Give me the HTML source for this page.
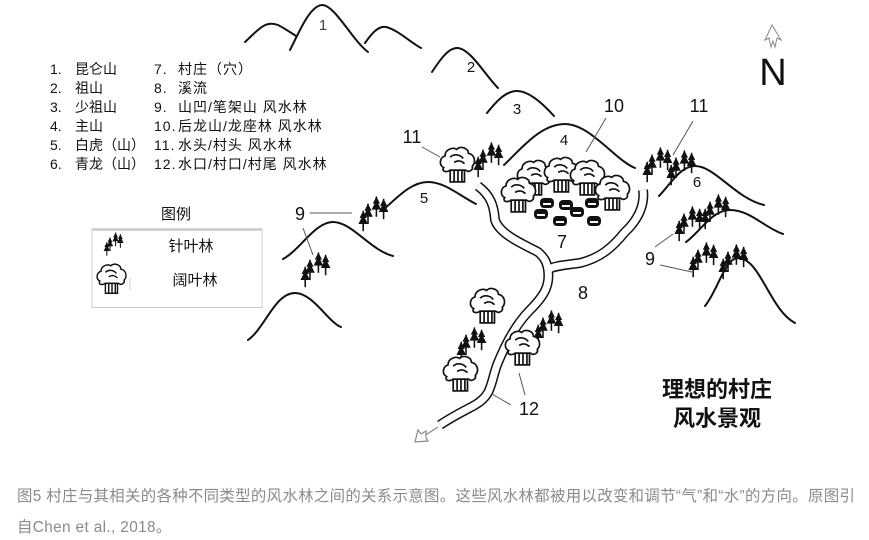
<!DOCTYPE html>
<html><head><meta charset="utf-8"><style>
html,body{margin:0;padding:0;background:#fff;}
body{width:869px;height:540px;overflow:hidden;position:relative;font-family:"Liberation Sans","Noto Sans CJK SC",sans-serif;}
svg{position:absolute;left:0;top:0;}
.cap{position:absolute;left:17px;color:#8a8a8a;font-size:15.4px;letter-spacing:0.35px;white-space:nowrap;font-family:"Liberation Sans","Noto Sans CJK SC",sans-serif;}
</style></head><body>
<svg width="869" height="540" viewBox="0 0 869 540" xmlns="http://www.w3.org/2000/svg">
<defs>
<g id="con">
 <path d="M0,-9 L-3,-3 L-1.5,-3 L-4,2 L4,2 L1.5,-3 L3,-3 Z" fill="#111"/>
 <line x1="0" y1="-9" x2="0" y2="8" stroke="#111" stroke-width="1.3"/>
</g>
<g id="cg0">
 <use href="#con" x="0" y="2"/><use href="#con" x="7" y="-4"/><use href="#con" x="13" y="-2"/><use href="#con" x="-4" y="8"/>
</g>
<g id="cg"><g transform="scale(1.2)"><use href="#cg0"/></g></g>
<g id="bt0" fill="#fff" stroke="#111" stroke-width="1.3">
 <path d="M-11,2 C-15,0 -14,-6 -10,-7 C-10,-12 -4,-14 -1,-12 C2,-15 8,-13 8,-9 C13,-8 14,-2 11,1 C12,4 8,6 6,4 L-6,4 C-9,6 -13,5 -11,2 Z"/>
 <path d="M-6,-6 C-3,-9 2,-8 4,-5 M-3,-2 C0,-4 3,-3 5,-1" fill="none"/>
 <rect x="-6" y="4" width="11" height="9"/>
 <path d="M-3,4 V13 M0,4 V13 M3,4 V13" fill="none"/>
</g>
<g id="bt"><g transform="scale(1.3)"><use href="#bt0"/></g></g>
<g id="hs"><rect x="-7" y="-5" width="14" height="10" rx="4" fill="#111"/><rect x="-4" y="0" width="8" height="2" fill="#fff"/></g>
</defs>

<g fill="none" stroke="#111" stroke-width="2" stroke-linecap="round">
 <path d="M245,42 C258,30 265,20 278,25 C284,28 290,32 296,36"/>
 <path d="M290,50 C300,30 310,6 322,5 C335,5 352,40 368,52"/>
 <path d="M365,43 C372,33 378,26 386,27 C398,30 410,42 421,48"/>
 <path d="M432,72 C440,60 448,48 457,48 C470,48 485,75 498,88"/>
 <path d="M487,113 C495,103 505,91 517,91 C530,91 545,106 554,116"/>
 <path d="M504,165 C520,150 540,124 565,124 C590,124 615,160 635,168"/>
 <path d="M383,210 C395,200 410,182 428,182 C445,182 460,196 476,204"/>
 <path d="M283,259 C300,250 315,222 333,222 C352,222 370,250 393,256"/>
 <path d="M248,340 C265,328 275,293 295,293 C313,293 328,322 341,327"/>
 <path d="M659,196 C670,185 680,166 695,166 C715,166 735,198 764,205"/>
 <path d="M686,242 C700,232 712,210 730,210 C750,210 765,228 783,234"/>
 <path d="M705,306 C718,290 725,258 738,258 C760,258 770,310 795,323"/>
</g>

<g fill="none" stroke-linejoin="round" stroke-linecap="butt">
 <path d="M478,186 C490,195 494,205 495,220 C500,235 525,245 538,252 C545,258 547,263 548,270" stroke="#111" stroke-width="10"/>
 <path d="M643,190 C645,205 638,220 625,232 C612,248 600,258 580,263 C565,265 552,266 548,270" stroke="#111" stroke-width="10"/>
 <path d="M548,270 C550,285 545,295 530,310 C515,325 505,345 497,365 C490,385 492,395 475,405 C460,413 450,418 440,425" stroke="#111" stroke-width="10"/>
 <path d="M478,186 C490,195 494,205 495,220 C500,235 525,245 538,252 C545,258 547,263 548,270" stroke="#fff" stroke-width="7"/>
 <path d="M643,190 C645,205 638,220 625,232 C612,248 600,258 580,263 C565,265 552,266 548,270" stroke="#fff" stroke-width="7"/>
 <path d="M548,270 C550,285 545,295 530,310 C515,325 505,345 497,365 C490,385 492,395 475,405 C460,413 450,418 440,425" stroke="#fff" stroke-width="7"/>
</g>
<g stroke="#888" stroke-width="1.2" fill="#fff">
 <line x1="438" y1="427" x2="424" y2="436"/>
 <path d="M415,442 L418,430 L421,434 L426,431 L426,438 L428,441 Z"/>
</g>

<g stroke="#555" stroke-width="1" fill="none">
 <line x1="422" y1="147" x2="440" y2="157"/>
 <line x1="310" y1="213" x2="352" y2="213"/>
 <line x1="303" y1="228" x2="313" y2="255"/>
 <line x1="606" y1="118" x2="586" y2="152"/>
 <line x1="693" y1="121" x2="673" y2="155"/>
 <line x1="655" y1="247" x2="673" y2="234"/>
 <line x1="660" y1="265" x2="692" y2="272"/>
 <line x1="492" y1="394" x2="511" y2="405"/>
 <line x1="519" y1="373" x2="525" y2="395"/>
</g>

<use href="#bt" x="458" y="165"/>
<use href="#cg" x="483" y="158"/>
<use href="#cg" x="368" y="212"/>
<use href="#cg" x="310" y="268"/>
<use href="#cg" x="652" y="163"/>
<use href="#cg" x="676" y="166"/>
<use href="#cg" x="684" y="222"/>
<use href="#cg" x="710" y="210"/>
<use href="#cg" x="698" y="258"/>
<use href="#cg" x="728" y="260"/>
<use href="#cg" x="466" y="343"/>
<use href="#cg" x="543" y="326"/>
<use href="#bt" x="488" y="306"/>
<use href="#bt" x="461" y="374"/>
<use href="#bt" x="523" y="348"/>

<use href="#bt" x="535" y="178"/>
<use href="#bt" x="562" y="175"/>
<use href="#bt" x="588" y="178"/>
<use href="#bt" x="613" y="193"/>
<use href="#bt" x="519" y="195"/>
<use href="#hs" x="547" y="203"/>
<use href="#hs" x="566" y="205"/>
<use href="#hs" x="592" y="203"/>
<use href="#hs" x="541" y="214"/>
<use href="#hs" x="577" y="212"/>
<use href="#hs" x="560" y="221"/>
<use href="#hs" x="594" y="221"/>

<g font-family="Liberation Sans, sans-serif" fill="#111" text-anchor="middle">
 <text x="323" y="30" font-size="15" fill="#444">1</text>
 <text x="471" y="72" font-size="15">2</text>
 <text x="517" y="114" font-size="15">3</text>
 <text x="564" y="145" font-size="15">4</text>
 <text x="424" y="203" font-size="15">5</text>
 <text x="697" y="187" font-size="15">6</text>
 <text x="562" y="248" font-size="18">7</text>
 <text x="583" y="299" font-size="18">8</text>
 <text x="300" y="220" font-size="18">9</text>
 <text x="650" y="265" font-size="18">9</text>
 <text x="614" y="112" font-size="18">10</text>
 <text x="412" y="143" font-size="18">11</text>
 <text x="699" y="112" font-size="18">11</text>
 <text x="529" y="415" font-size="18">12</text>
 <text x="773" y="85" font-size="38">N</text>
</g>
<path d="M772,25 L765,40 L769,38 L771,47 L773,41 L775,47 L777,38 L781,40 Z" fill="#fff" stroke="#888" stroke-width="1"/>

<g font-family="Liberation Sans, Noto Sans CJK SC, sans-serif" font-size="22" fill="#111" text-anchor="middle" font-weight="bold">
 <text x="717" y="397">理想的村庄</text>
 <text x="717" y="426">风水景观</text>
</g>

<g font-family="Liberation Sans, Noto Sans CJK SC, sans-serif" font-size="14" fill="#111">
 <text x="50" y="74">1.</text><text x="75" y="74">昆仑山</text>
 <text x="50" y="93">2.</text><text x="75" y="93">祖山</text>
 <text x="50" y="112">3.</text><text x="75" y="112">少祖山</text>
 <text x="50" y="131">4.</text><text x="75" y="131">主山</text>
 <text x="50" y="150">5.</text><text x="75" y="150">白虎（山）</text>
 <text x="50" y="169">6.</text><text x="75" y="169">青龙（山）</text>
 <g letter-spacing="1">
 <text x="154" y="74">7.</text><text x="178" y="74">村庄（穴）</text>
 <text x="154" y="93">8.</text><text x="178" y="93">溪流</text>
 <text x="154" y="112">9.</text><text x="178" y="112">山凹/笔架山 风水林</text>
 <text x="154" y="131">10.</text><text x="178" y="131">后龙山/龙座林 风水林</text>
 <text x="154" y="150">11.</text><text x="178" y="150">水头/村头 风水林</text>
 <text x="154" y="169">12.</text><text x="178" y="169">水口/村口/村尾 风水林</text>
 </g>
 <text x="176" y="219" font-size="15" text-anchor="middle">图例</text>
 <text x="191" y="251" font-size="15" text-anchor="middle">针叶林</text>
 <text x="195" y="285" font-size="15" text-anchor="middle">阔叶林</text>
</g>
<line x1="92" y1="229.5" x2="262" y2="229.5" stroke="#555" stroke-width="1.5"/>
<rect x="92" y="229.5" width="170" height="78" fill="none" stroke="#ccc" stroke-width="1"/>
<g transform="translate(110,243) scale(0.8)"><use href="#cg0"/></g>
<g transform="translate(112,279) scale(1.1)"><use href="#bt0"/></g>
<line x1="130" y1="278" x2="130" y2="290" stroke="#ccc"/>
</svg>
<div class="cap" style="top:484px;">图5 村庄与其相关的各种不同类型的风水林之间的关系示意图。这些风水林都被用以改变和调节“气”和“水”的方向。原图引</div>
<div class="cap" style="top:515px;">自Chen et al., 2018。</div>
</body></html>
